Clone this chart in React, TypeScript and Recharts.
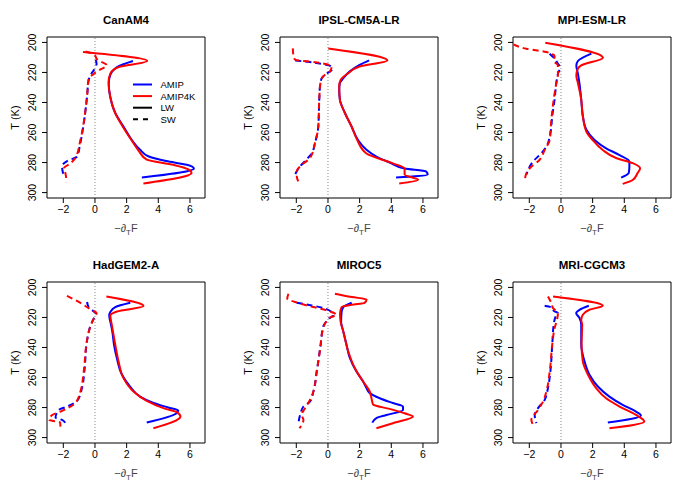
import React from "react";
import {
  LineChart,
  Line,
  XAxis,
  YAxis,
  ReferenceLine,
  ReferenceArea,
  Legend,
  Label,
} from "recharts";

// [T (K), -dT F] pairs
type Pt = [number, number];

const TITLES = ["CanAM4", "IPSL-CM5A-LR", "MPI-ESM-LR", "HadGEM2-A", "MIROC5", "MRI-CGCM3"];
const X_TICKS = [-2, 0, 2, 4, 6];
const T_TICKS = [200, 220, 240, 260, 280, 300];
const X_DOMAIN: [number, number] = [-3.03, 6.95];
const T_DOMAIN: [number, number] = [196.4, 303.6];

const CANAM_AMIP_LW: Pt[] = [[212.4, 2.4], [216.4, 1.39], [219.7, 1.07], [224.2, 0.9], [228, 0.87], [236, 0.96], [247, 1.28], [256, 1.8], [265, 2.33], [271.5, 2.85], [276, 3.4], [279, 4.5], [281.5, 5.8], [284, 6.25], [290, 2.96]];
const CANAM_AMIP4K_LW: Pt[] = [[206.4, -0.76], [212.4, 3.3], [216.4, 1.5], [220.8, 0.97], [226.4, 0.86], [236, 0.96], [247, 1.28], [256, 1.75], [265, 2.3], [272, 2.75], [278, 3.27], [281.5, 4.95], [284.5, 5.9], [287, 6.1], [294, 3.06]];
const CANAM_AMIP_SW: Pt[] = [[211.5, 0.05], [214.2, 0.1], [218.6, -0.08], [222, -0.3], [225.3, -0.4], [236, -0.5], [247, -0.62], [260, -0.8], [269, -0.96], [276, -1.13], [279, -1.76], [282.5, -2.08], [289, -1.97]];
const CANAM_AMIP4K_SW: Pt[] = [[206, -0.6], [208, -0.05], [211.5, 0.15], [215.3, 0.76], [218, 0.35], [221, -0.08], [224.2, -0.4], [236, -0.5], [247, -0.62], [265, -0.92], [277, -1.24], [280.5, -1.55], [284, -1.97], [287, -1.87], [293, -1.8]];

const IPSL_AMIP_LW: Pt[] = [[212, 2.6], [215, 2.0], [219.3, 1.38], [224, 0.96], [227, 0.75], [231.5, 0.71], [238, 0.75], [247, 1.07], [256, 1.49], [265, 1.9], [271.5, 2.43], [276, 3.06], [280, 3.9], [284, 4.84], [286, 6.2], [288, 6.3], [290, 4.3]];
const IPSL_AMIP4K_LW: Pt[] = [[204, 0.02], [212, 3.75], [216, 2.0], [220.5, 1.28], [225, 0.8], [229, 0.71], [238, 0.75], [247, 1.07], [256, 1.49], [265, 1.85], [274, 2.43], [280.5, 4.1], [284, 4.84], [288, 4.84], [291.5, 5.7], [294, 4.5]];
const IPSL_AMIP_SW: Pt[] = [[212, -2.07], [213.8, -0.71], [216, 0.2], [218, 0.25], [221.5, -0.19], [224, -0.4], [229, -0.5], [238, -0.55], [256, -0.61], [267, -0.82], [274, -1.03], [279, -1.45], [284, -1.87], [288, -2.08]];
const IPSL_AMIP4K_SW: Pt[] = [[204, -2.22], [209, -2.18], [211.5, -2.08], [213.3, -0.71], [216, 0.23], [219.3, 0.13], [221.5, -0.19], [224, -0.4], [229, -0.5], [238, -0.55], [256, -0.61], [267, -0.82], [277, -1.13], [281.5, -1.66], [286, -1.97], [289.3, -1.97], [292.7, -1.87]];

const MPI_AMIP_LW: Pt[] = [[207.5, 1.92], [212.4, 1.07], [215.3, 0.97], [220.8, 1.07], [227.5, 1.17], [238, 1.28], [249, 1.38], [258, 1.6], [265, 2.12], [270.5, 2.85], [275, 3.7], [279.3, 4.32], [283, 4.32], [287, 4.28], [290, 3.8]];
const MPI_AMIP4K_LW: Pt[] = [[200.2, -0.99], [210.2, 2.65], [215.3, 1.28], [217.5, 1.07], [222, 0.97], [227, 1.07], [238, 1.28], [249, 1.38], [259.3, 1.6], [265, 2.0], [271.6, 2.64], [277, 3.48], [280.4, 4.53], [283.8, 5.0], [287, 4.84], [291.6, 4.53], [294.2, 3.9]];
const MPI_AMIP_SW: Pt[] = [[207.5, -0.72], [210.8, -0.4], [214.2, -0.19], [216.4, -0.05], [220.8, -0.19], [227.5, -0.3], [238, -0.4], [249, -0.55], [260.4, -0.67], [269.3, -0.92], [273.8, -1.24], [279.3, -1.76], [285, -2.08], [288, -2.18]];
const MPI_AMIP4K_SW: Pt[] = [[201.3, -3.0], [204.2, -2.19], [206.4, -0.93], [209.3, -0.4], [212.5, -0.45], [215, -0.2], [220.8, -0.19], [227.5, -0.3], [238, -0.46], [251.6, -0.61], [265, -0.71], [271.6, -1.03], [278, -1.34], [283.8, -1.97], [287, -2.18], [291.6, -2.28]];

const HAD_AMIP_LW: Pt[] = [[210.2, 2.23], [213.1, 1.28], [216.4, 0.97], [218.6, 0.9], [224.2, 1.0], [229.7, 1.1], [238, 1.2], [247, 1.38], [258, 1.7], [266, 2.22], [272.7, 2.85], [277, 3.7], [280, 4.63], [282, 5.26], [283.8, 5.16], [290, 3.27]];
const HAD_AMIP4K_LW: Pt[] = [[206, 0.72], [212.4, 3.07], [216, 1.39], [218.6, 0.97], [225.3, 1.07], [238, 1.28], [249.3, 1.49], [260.4, 1.8], [269.3, 2.43], [275.6, 3.27], [280.4, 4.32], [283, 5.16], [286, 5.4], [293.8, 3.69]];
const HAD_AMIP_SW: Pt[] = [[209.7, -0.5], [213.1, -0.4], [216, -0.08], [217.5, 0.08], [220.8, -0.08], [226, -0.3], [235.3, -0.5], [256, -0.67], [267, -0.82], [275.6, -1.13], [279.3, -1.76], [281.6, -2.28], [286.7, -2.49], [288.2, -2.08], [290.4, -1.87]];
const HAD_AMIP4K_SW: Pt[] = [[205.7, -1.77], [210.9, -0.82], [215.3, -0.19], [217, 0.1], [220.8, -0.08], [226.4, -0.3], [235.3, -0.5], [256, -0.71], [269.3, -0.92], [277, -1.24], [282.7, -2.18], [285, -2.7], [288.2, -2.9], [290, -2.2], [292.7, -2.18]];

const MIROC_AMIP_LW: Pt[] = [[210.2, 1.5], [213.1, 0.97], [216.4, 0.86], [223, 0.83], [229, 0.96], [238, 1.17], [247, 1.38], [256, 1.8], [262.7, 2.22], [267, 2.43], [270.4, 2.64], [273.8, 3.27], [277, 4.1], [279.3, 4.74], [281.6, 4.74], [285, 3.69], [287, 3.06], [290, 2.8]];
const MIROC_AMIP4K_LW: Pt[] = [[204.2, 0.44], [206.4, 1.5], [208, 2.44], [210.4, 2.3], [211.5, 1.5], [213.1, 0.86], [217.5, 0.76], [223, 0.8], [229, 0.96], [242.7, 1.28], [253.8, 1.7], [262.7, 2.22], [269.3, 2.64], [273.8, 2.75], [278, 2.85], [280.9, 3.9], [283.8, 4.84], [286, 5.37], [290.4, 4.1], [293.8, 3.06]];
const MIROC_AMIP_SW: Pt[] = [[210.2, -1.98], [212, -1.03], [213.7, -0.29], [216.4, 0.23], [218.6, 0.34], [220.8, 0.03], [223, -0.13], [226, -0.3], [238, -0.46], [256, -0.71], [269.3, -0.92], [276, -1.13], [279.3, -1.55], [285, -1.76], [290.4, -1.87]];
const MIROC_AMIP4K_SW: Pt[] = [[204.2, -2.5], [207.5, -2.57], [209.7, -2.08], [213.1, -0.93], [215.3, -0.08], [218.6, 0.55], [219.7, 0.2], [223, -0.13], [232, -0.4], [238, -0.46], [256, -0.71], [269.3, -0.92], [277, -1.24], [280.4, -1.45], [285, -1.66], [288.2, -1.55], [293.8, -1.8]];

const MRI_AMIP_LW: Pt[] = [[212.2, 1.76], [214.9, 1.17], [217, 0.96], [220.4, 1.17], [224.9, 1.28], [238, 1.28], [249.3, 1.49], [258.2, 1.8], [266, 2.33], [272.7, 3.06], [278.2, 3.9], [282.7, 4.74], [285.3, 5.05], [290, 2.96]];
const MRI_AMIP4K_LW: Pt[] = [[206, -0.5], [212.2, 2.64], [214.9, 1.8], [218.2, 1.38], [221.5, 1.28], [224.9, 1.34], [238, 1.3], [249.3, 1.38], [258, 1.7], [267, 2.22], [273.8, 2.85], [279.3, 3.7], [284.9, 4.74], [289.3, 5.26], [293.8, 3.06]];
const MRI_AMIP_SW: Pt[] = [[212.2, -1.03], [213.3, -0.61], [216, -0.4], [217, -0.19], [218.2, -0.29], [224.9, -0.46], [238, -0.55], [256, -0.67], [267, -0.82], [274.9, -1.03], [280.4, -1.45], [285, -1.66], [290.4, -1.55]];
const MRI_AMIP4K_SW: Pt[] = [[206, -0.82], [210.4, -0.61], [213.8, -0.5], [217, -0.19], [221.5, -0.25], [227, -0.4], [238, -0.55], [256, -0.71], [269.3, -0.92], [276, -1.13], [281.6, -1.45], [288.2, -1.87], [291.6, -1.76]];

const PANELS: Pt[][][] = [
  [CANAM_AMIP_LW, CANAM_AMIP4K_LW, CANAM_AMIP_SW, CANAM_AMIP4K_SW],
  [IPSL_AMIP_LW, IPSL_AMIP4K_LW, IPSL_AMIP_SW, IPSL_AMIP4K_SW],
  [MPI_AMIP_LW, MPI_AMIP4K_LW, MPI_AMIP_SW, MPI_AMIP4K_SW],
  [HAD_AMIP_LW, HAD_AMIP4K_LW, HAD_AMIP_SW, HAD_AMIP4K_SW],
  [MIROC_AMIP_LW, MIROC_AMIP4K_LW, MIROC_AMIP_SW, MIROC_AMIP4K_SW],
  [MRI_AMIP_LW, MRI_AMIP4K_LW, MRI_AMIP_SW, MRI_AMIP4K_SW],
];

const BLUE = "#0000ff";
const RED = "#ff0000";
const DASH = "6 4";
const FONT = "'Liberation Sans', Arial, Helvetica, sans-serif";

const toRows = (pts: Pt[]) => pts.map(([t, v]) => ({ t, v }));
const fmtX = (v: number) => (v < 0 ? `\u2212${Math.abs(v)}` : String(v));

function TTick(props: any) {
  const { x, y, payload } = props;
  const bx = x - 4;
  return (
    <text x={bx} y={y} transform={`rotate(-90 ${bx} ${y})`} textAnchor="middle" fontSize={10.5} fill="#000">
      {payload.value}
    </text>
  );
}

function XTitle(props: any) {
  const vb = props.viewBox;
  return (
    <text x={vb.x + vb.width / 2} y={vb.y + 34} textAnchor="middle" fontSize={11} fill="#444">
      {"\u2212\u2202"}
      <tspan fontSize={8} dy={3}>T</tspan>
      <tspan dy={-3}>F</tspan>
    </text>
  );
}

function YTitle(props: any) {
  const vb = props.viewBox;
  const cx = vb.x + 19;
  const cy = vb.y + vb.height / 2;
  return (
    <text x={cx} y={cy} transform={`rotate(-90 ${cx} ${cy})`} textAnchor="middle" fontSize={11} fill="#000">
      T (K)
    </text>
  );
}

const LEGEND_ITEMS = [
  { label: "AMIP", color: BLUE, dash: undefined },
  { label: "AMIP4K", color: RED, dash: undefined },
  { label: "LW", color: "#000", dash: undefined },
  { label: "SW", color: "#000", dash: "5 5" },
];

function LegendBox() {
  return (
    <svg width={80} height={50}>
      {LEGEND_ITEMS.map((it, i) => (
        <g key={it.label}>
          <line x1={3} x2={22} y1={6.5 + i * 11.6} y2={6.5 + i * 11.6} stroke={it.color} strokeWidth={2} strokeDasharray={it.dash} />
          <text x={30.5} y={6.5 + i * 11.6} dominantBaseline="central" fontSize={9.5} fill="#000" fontFamily={FONT}>
            {it.label}
          </text>
        </g>
      ))}
    </svg>
  );
}

function Panel({ title, series, showLegend }: { title: string; series: Pt[][]; showLegend: boolean }) {
  const [aLw, kLw, aSw, kSw] = series;
  return (
    <div style={{ position: "relative", width: 233, height: 245 }}>
      <div
        style={{
          position: "absolute",
          left: 47,
          width: 158,
          top: 13.5,
          textAlign: "center",
          fontWeight: "bold",
          fontSize: 11.5,
          lineHeight: "12px",
        }}
      >
        {title}
      </div>
      <LineChart width={233} height={245} layout="vertical" margin={{ top: 37, right: 28, bottom: 0, left: 0 }}>
        <XAxis
          type="number"
          domain={X_DOMAIN}
          ticks={X_TICKS}
          allowDataOverflow
          height={47}
          axisLine={false}
          tickSize={5}
          tickMargin={3}
          tickLine={{ stroke: "#000" }}
          tick={{ fontSize: 10.5, fill: "#000" }}
          tickFormatter={fmtX}
        >
          <Label content={<XTitle />} />
        </XAxis>
        <YAxis
          type="number"
          dataKey="t"
          domain={T_DOMAIN}
          ticks={T_TICKS}
          allowDataOverflow
          width={47}
          axisLine={false}
          tickSize={5}
          tickLine={{ stroke: "#000" }}
          tick={<TTick />}
        >
          <Label content={<YTitle />} />
        </YAxis>
        <ReferenceArea x1={X_DOMAIN[0]} x2={X_DOMAIN[1]} y1={T_DOMAIN[0]} y2={T_DOMAIN[1]} fill="none" stroke="#000" strokeWidth={1} fillOpacity={0} />
        <ReferenceLine x={0} stroke="#888" strokeDasharray="1 2" />
        <Line type="monotoneY" data={toRows(aSw)} dataKey="v" stroke={BLUE} strokeWidth={2} strokeDasharray={DASH} dot={false} isAnimationActive={false} />
        <Line type="monotoneY" data={toRows(kSw)} dataKey="v" stroke={RED} strokeWidth={2} strokeDasharray={DASH} dot={false} isAnimationActive={false} />
        <Line type="monotoneY" data={toRows(aLw)} dataKey="v" stroke={BLUE} strokeWidth={2} dot={false} isAnimationActive={false} />
        <Line type="monotoneY" data={toRows(kLw)} dataKey="v" stroke={RED} strokeWidth={2} dot={false} isAnimationActive={false} />
        {showLegend && (
          <Legend
            layout="vertical"
            align="center"
            verticalAlign="middle"
            wrapperStyle={{ left: 130, top: 78, width: 80, height: 50 }}
            content={<LegendBox />}
          />
        )}
      </LineChart>
    </div>
  );
}

export default function App() {
  return (
    <div
      style={{
        position: "absolute",
        left: 0,
        top: 0,
        width: 700,
        height: 490,
        background: "#fff",
        fontFamily: FONT,
      }}
    >
      {TITLES.map((title, i) => (
        <div key={title} style={{ position: "absolute", left: (i % 3) * 233, top: Math.floor(i / 3) * 245 }}>
          <Panel title={title} series={PANELS[i]} showLegend={i === 0} />
        </div>
      ))}
    </div>
  );
}
